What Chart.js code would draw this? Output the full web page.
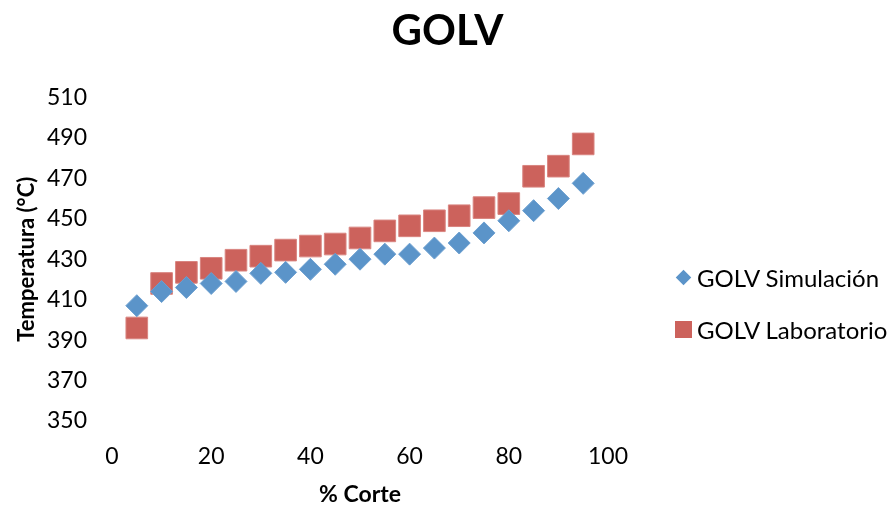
<!DOCTYPE html>
<html>
<head>
<meta charset="utf-8">
<script src="https://cdn.jsdelivr.net/npm/chart.js@4"></script>
<style>
  html, body { margin: 0; padding: 0; background: #fff; }
  #wrap { position: relative; width: 895px; height: 508px; }
  .golv-legend-item {
    position: absolute;
    left: 672px;
    height: 30px;
    display: flex;
    align-items: center;
    font-family: Lato, "Open Sans", sans-serif;
    font-size: 24px;
    color: #000;
    white-space: nowrap;
  }
  .golv-legend-mark { width: 22px; height: 22px; display: flex; align-items: center; justify-content: center; margin-right: 3px; }
  .golv-legend-mark.diamond span { width: 11px; height: 11px; background: #5B94C9; transform: rotate(45deg); }
  .golv-legend-mark.square span  { width: 17px; height: 17px; background: #CC625C; }
</style>
</head>
<body>
<div id="wrap">
  <canvas id="chartGolv"></canvas>
  <div id="golvLegend"></div>
</div>
<script>
// ---- Data ----
const corte       = [5, 10, 15, 20, 25, 30, 35, 40, 45, 50, 55, 60, 65, 70, 75, 80, 85, 90, 95];
const simulacion  = [407, 414, 416, 418, 419, 423, 423.5, 425, 427.5, 430, 432.5, 432.5, 435.5, 438, 443, 449, 454, 460, 467.5];
const laboratorio = [396, 418, 423.5, 425.5, 429.5, 431.5, 434.5, 436.5, 437.5, 440.5, 444, 446.5, 449, 451.5, 455.5, 457.5, 471, 476, 487];
const yTicks      = [350, 370, 390, 410, 430, 450, 470, 490, 510];
const xTicks      = [0, 20, 40, 60, 80, 100];

const FONT = 'Lato, "Open Sans", sans-serif';

function toPoints(values) {
  return corte.map(function (c, i) { return { x: c, y: values[i] }; });
}

const ctx = document.getElementById('chartGolv').getContext('2d');
const golvChart = new Chart(ctx, {
  type: 'scatter',
  data: {
    datasets: [{
      label: 'GOLV Simulación',
      data: toPoints(simulacion),
      pointStyle: 'rectRot',
      pointRadius: 11,
      pointHoverRadius: 11,
      backgroundColor: '#5B94C9',
      borderColor: '#6C9FD0',
      borderWidth: 1
    }, {
      label: 'GOLV Laboratorio',
      data: toPoints(laboratorio),
      pointStyle: 'rect',
      pointRadius: 15.3,
      pointHoverRadius: 15.3,
      backgroundColor: '#CC625C',
      borderColor: '#D98580',
      borderWidth: 1
    }]
  },
  options: {
    responsive: true,
    maintainAspectRatio: false,
    animation: false,
    layout: { padding: 0 },
    plugins: {
      title: {
        display: true,
        text: 'GOLV',
        color: '#000',
        font: { family: FONT, size: 42, weight: 'bold' },
        padding: { top: 6, bottom: 41 }
      },
      legend: { display: false },
      tooltip: { enabled: false }
    },
    scales: {
      x: {
        type: 'linear',
        min: 0,
        max: 100,
        afterBuildTicks: function (s) { s.ticks = xTicks.map(function (v) { return { value: v }; }); },
        afterFit: function (s) { s.height = 87; },
        grid: { display: false },
        border: { display: false },
        ticks: { color: '#000', font: { family: FONT, size: 23 }, padding: 14, maxRotation: 0 },
        title: {
          display: true,
          text: '% Corte',
          color: '#000',
          font: { family: FONT, size: 23, weight: 'bold' },
          padding: { top: 4, bottom: 0 }
        }
      },
      y: {
        type: 'linear',
        min: 350,
        max: 510,
        afterBuildTicks: function (s) { s.ticks = yTicks.map(function (v) { return { value: v }; }); },
        afterFit: function (s) { s.width = 112; },
        grid: { display: false },
        border: { display: false },
        ticks: { color: '#000', font: { family: FONT, size: 23 }, padding: 17 },
        title: {
          display: true,
          text: 'Temperatura (°C)',
          color: '#000',
          font: { family: FONT, size: 22, weight: 'bold' },
          padding: { top: 14, bottom: 0 }
        }
      },
      // empty axis that keeps the right side free for the legend
      gap: {
        type: 'linear',
        position: 'right',
        display: true,
        afterFit: function (s) { s.width = 287; },
        grid: { display: false },
        border: { display: false },
        ticks: { display: false }
      }
    }
  }
});

// ---- Legend (built from the datasets) ----
const legendWrap = document.getElementById('golvLegend');
const legendTops = [262, 314];
golvChart.data.datasets.forEach(function (ds, i) {
  const item = document.createElement('div');
  item.className = 'golv-legend-item';
  item.style.top = legendTops[i] + 'px';
  const shape = ds.pointStyle === 'rectRot' ? 'diamond' : 'square';
  item.innerHTML =
    '<span class="golv-legend-mark ' + shape + '"><span></span></span>' +
    '<span>' + ds.label + '</span>';
  legendWrap.appendChild(item);
});
</script>
</body>
</html>
